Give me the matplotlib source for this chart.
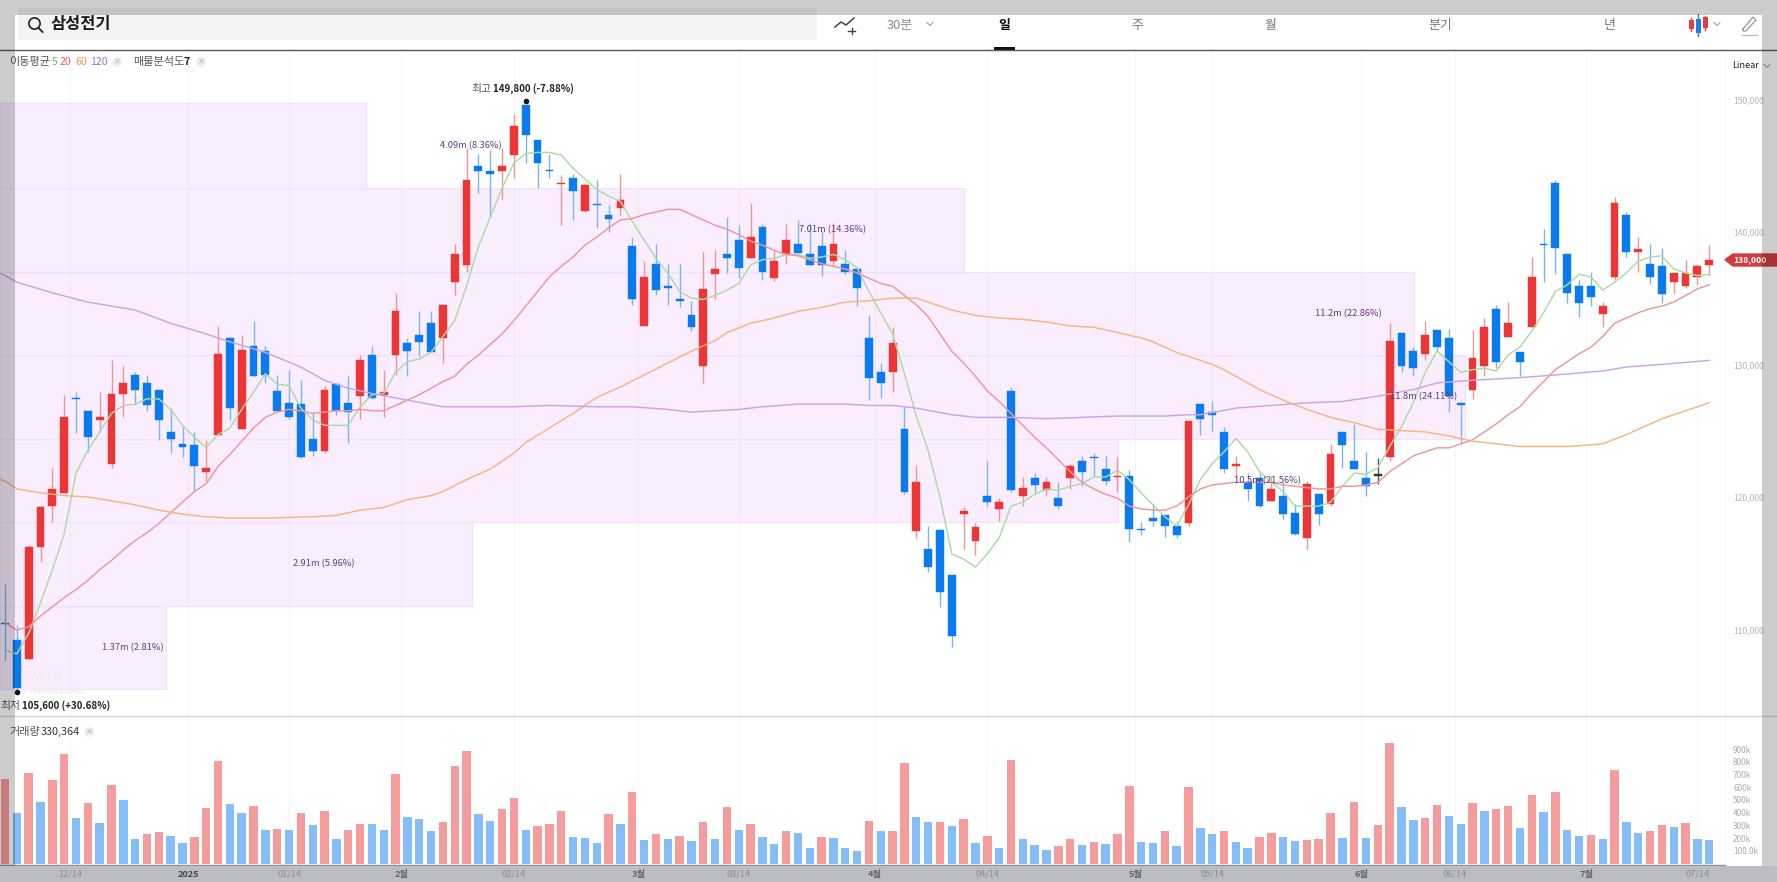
import matplotlib
matplotlib.use("Agg")
import matplotlib.pyplot as plt
from matplotlib.patches import Rectangle, Circle, Polygon
import numpy as np

plt.rcParams['font.family'] = ['Noto Sans CJK KR', 'DejaVu Sans']

# ---------- data ----------
open_ = [110600,109300,107900,116300,119400,120400,127600,126600,125900,122600,
 127900,129300,128700,128200,125000,124100,124000,122000,124800,132100,
 125200,131500,131100,128100,127200,127100,124500,123600,128600,127200,
 127700,130800,127800,130800,131700,132300,133200,132100,136300,137600,
 145100,144700,144700,145900,149650,147000,144800,143700,144200,141700,
 142200,141400,141900,139000,133000,137700,136000,135000,133800,130000,
 136900,138400,139500,138100,140500,136600,138400,139200,138400,139000,
 137900,137700,137300,132100,129500,129500,125200,117500,116200,117600,
 114200,118800,116800,120200,119200,128100,120200,121500,120600,120000,
 121500,122800,123100,122200,121600,121700,117700,118500,118700,117900,
 118100,127100,126500,125000,122400,121200,121500,119800,120200,118900,
 117000,120300,119600,125000,122800,121500,121700,123100,132500,131100,
 130900,132700,132100,127200,128200,130000,134300,132200,131000,132900,
 139200,143800,138400,136000,136000,133900,136700,141400,138600,137700,
 137500,136300,136000,136700,137600]
close = [110500,105700,116300,119300,120700,126100,127500,124600,126100,127900,
 128700,128200,127000,125900,124500,123900,122400,122300,130900,126800,
 131200,129200,129300,126600,126100,123100,123600,128200,126600,126500,
 130400,127600,128000,134100,131100,131800,131000,134600,138400,144000,
 144700,144500,145100,148100,147400,145300,144700,143800,143200,143600,
 142100,141100,142500,135000,136700,135700,135900,134900,132900,135800,
 137300,138100,137400,139700,137100,137900,139500,138500,137600,137600,
 139200,137100,135900,129100,128700,131700,120500,121200,114800,112900,
 109600,119000,117800,119700,119700,120600,120800,121000,121200,119400,
 122400,122000,123000,121300,121700,117700,117600,118300,117900,117200,
 125800,126000,126300,122200,122600,120700,119400,120700,118800,117300,
 121100,118800,123300,124000,122200,120900,121700,131900,130000,129800,
 132300,131400,127700,127000,130600,132900,130300,133200,130300,136700,
 139100,138900,135500,134700,135200,134500,142300,138600,138800,136700,
 135400,137000,137000,137500,138000]
high = [113500,110400,116500,119400,122300,127800,128000,126600,128000,130400,
 130000,129500,129300,128200,126800,125400,125000,124400,133000,132200,
 132300,133400,131500,129300,129700,128900,126400,128500,128600,129200,
 130800,131500,129700,135500,132100,134100,134100,134600,139200,146400,
 146000,146300,146400,149000,149650,147000,146000,144400,144500,143800,
 144000,142100,144500,139700,137900,139200,137700,137700,134900,138600,
 138700,141200,140600,142300,140700,138700,140700,141000,140800,140200,
 140800,138700,137300,133800,130200,132900,126900,122500,117900,117600,
 114200,119300,118100,122800,120000,128400,121600,121900,121600,121200,
 122600,123200,123400,123200,123100,122100,118200,119600,118700,118200,
 125800,127100,127300,125400,123200,121900,122000,121700,121200,119600,
 121300,120300,124100,125000,125600,123500,123000,133200,132500,131400,
 133400,132700,132800,127200,132700,133600,134600,134800,131000,138200,
 140300,144000,138400,136500,137100,134800,142700,141600,139700,139200,
 138900,137000,138000,137700,139100]
low = [107700,105600,107900,115200,118200,120400,124900,123500,125000,122300,
 126100,127000,126600,124400,123400,123100,120500,121300,124800,125900,
 125200,129200,128700,126600,126000,123000,123200,123400,126300,124200,
 126000,127500,126100,129300,129200,130700,131000,130200,135300,137100,
 143000,141200,142600,144200,145300,143400,144200,140600,141000,141600,
 140400,140100,141400,134600,133000,135300,134600,134400,132600,128700,
 135000,137000,136600,138100,136500,136400,137700,138500,137600,136800,
 137500,136900,134500,127400,127600,128000,120300,117000,114400,111800,
 108800,116200,115700,119400,118300,120500,119400,120400,120200,119200,
 120700,120900,121700,121000,120500,116700,117200,117900,117100,117000,
 117900,124800,125100,121900,121500,119800,119300,119800,118400,117200,
 116200,118000,119400,122300,122200,120200,121100,122800,129500,129200,
 130400,131100,126500,124100,127500,129200,129800,132200,129200,132900,
 136300,136900,134700,133700,134500,132900,136500,138200,137100,136200,
 134700,135500,135900,136100,136800]

ma5 = [108550,108250,109800,112100,114600,117300,121900,123600,125000,126400,
 127000,127100,127500,127500,126700,125500,124600,123800,124800,125300,
 126700,128000,129400,128600,128500,126800,125900,125500,125500,125500,
 126900,127800,127900,129500,130300,130500,131000,132200,133400,136000,
 139000,141200,143400,145300,146000,146100,146100,145900,144900,144100,
 143300,142800,142400,140900,139500,138100,137000,135600,135100,135000,
 135300,135700,136200,137600,138000,138100,138400,138400,138100,138200,
 138400,138000,137400,135600,134000,132400,129400,126200,123600,120100,
 115800,115400,114800,115800,117000,119400,119700,120300,120700,120600,
 120900,121100,121600,121600,122100,121400,120400,119500,118600,117900,
 119500,121400,122600,123500,124500,123500,122000,121200,120500,119400,
 119400,119400,119700,120900,121900,121800,122300,123900,125400,127200,
 129500,131100,130300,129500,129700,129800,129600,130800,131400,132600,
 134000,135600,136100,136900,136700,135700,136300,137000,137900,138200,
 138300,137300,137000,136800,136900]
ma20 = [110600,110050,110300,111100,111800,112500,113100,113800,114600,115300,
 116100,116800,117400,118100,118900,119700,120500,121100,122400,123300,
 124300,125300,126100,126500,126700,126600,126400,126500,126600,126600,
 126700,126600,126600,127000,127400,127800,128300,128800,129200,130100,
 130800,131600,132400,133400,134500,135600,136700,137500,138200,139100,
 139700,140400,141000,141100,141400,141600,141800,141800,141400,141000,
 140600,140300,139900,139400,139100,138700,138400,138300,138000,137700,
 137500,137300,137000,136600,136200,136000,135300,134600,133700,132400,
 131100,130200,129200,128100,127300,126400,125500,124600,123800,122900,
 122000,121200,120700,120300,120000,119400,119200,119100,119100,119400,
 120100,120700,121000,121100,121200,121200,121200,121200,121000,120900,
 120800,120700,120700,120900,120900,121000,121200,122000,122600,123200,
 123500,123800,123800,124100,124400,125000,125600,126300,126900,127900,
 128800,129700,130300,130900,131400,132200,133200,133600,134000,134300,
 134500,134800,135300,135800,136100]
ma60_idx = [-1,0,1,3,5,7,9,11,13,15,17,19,22,26,28,30,32,34,36,37,39,41,43,44,46,48,50,
 52,54,56,58,60,61,63,65,67,69,71,73,75,77,78,80,82,84,86,88,90,92,94,96,97,99,
 102,103,104,106,108,110,112,114,116,118,120,122,124,126,128,132,135,137,140,144]
ma60_val = [121600,121300,120700,120400,120200,120100,119800,119500,119100,118800,118600,118500,118500,118600,118700,119100,119300,119900,120200,120500,121400,122200,123400,124200,125300,126400,127600,
 128400,129300,130200,131100,131900,132500,133200,133600,134100,134400,134800,134900,135100,135100,134800,134200,133800,133600,133500,133300,133000,132900,132500,132100,131800,131000,
 130100,129700,129200,128200,127400,126700,126100,125700,125200,125100,125000,124700,124300,124100,123900,123900,124100,124800,126000,127200]
ma120_idx = [-1,0,1,4,7,11,14,17,19,22,25,27,29,31,34,37,39,43,46,50,53,56,58,60,62,64,67,71,73,75,77,80,82,85,88,91,94,98,100,
 101,104,107,110,113,116,119,121,124,128,131,135,137,140,144]
ma120_val = [137200,136800,136300,135500,134800,134200,133200,132400,131800,131000,129900,128900,128300,127900,127400,126900,126900,126900,127000,126900,126900,126700,126500,126600,126700,126900,127100,127100,127000,127000,126800,126300,126100,126100,126000,126100,126200,126200,126300,
 126300,126800,127000,127200,127300,127700,128200,128700,128900,129100,129300,129600,129900,130100,130400]

volume_k = [672,407,717,494,664,866,368,480,323,622,
 504,197,236,252,223,165,218,446,816,472,
 407,459,268,281,273,402,310,417,202,273,
 318,318,273,709,373,354,260,331,772,893,
 394,344,438,525,273,302,318,417,215,210,
 171,394,320,572,189,236,202,223,181,336,
 202,452,273,320,218,160,260,244,131,215,
 210,131,108,344,260,260,801,373,331,336,
 302,360,165,223,131,822,202,152,116,144,
 202,152,173,160,236,617,173,165,260,144,
 609,286,236,265,173,131,215,244,215,181,
 194,202,402,210,494,210,307,958,452,352,
 365,465,381,315,480,423,438,459,286,543,
 415,572,273,223,231,202,743,336,244,260,
 307,294,323,202,194]
volume_side = ("rbrbrrbrbr" "bbrrbbrrrb" "brbrbrbrbr" "rbbrbbbrrr" "bbrrbrrrbb"
               "brbrbrbrbr" "brbrbbrbbr" "bbbrbrrbbr" "brbrbrbbbr" "rbrbrrbbrb"
               "rbbrbbrrbb" "rrrbrbrrbb" "rrbbrbrrbr" "brbbrbrbbr" "rbrbb")

profile_edges = [105600,111900,118200,124500,130800,137100,143400,149800]
profile_reach = [13.6,39.5,94.05,123.4,119.05,81.0,30.5]
profile_labels = ["1.37m (2.81%)","2.91m (5.96%)","10.5m (21.56%)","11.8m (24.11%)","11.2m (22.86%)","7.01m (14.36%)","4.09m (8.36%)"]
profile_label_x = [10.8,26.9,106.7,119.9,113.5,69.9,39.4]

x_ticks = [5.5,15.5,24,33.5,43,53.5,62,73.5,83,95.5,102,114.6,122.5,133.6,143]
x_labels = ["12/14","2025","01/14","2월","02/14","3월","03/14","4월","04/14","5월","05/14","6월","06/14","7월","07/14"]
price_ticks = [110000,120000,130000,140000,150000]
vol_ticks_k = [100,200,300,400,500,600,700,800,900]
vol_labels = ["100.0k","200k","300k","400k","500k","600k","700k","800k","900k"]
last_price = 138000

# ---------- styles / layout ----------
W, H = 1777, 882
RED, BLUE = "#EE3535", "#0A7BEE"
RED_W, BLUE_W = "#F19494", "#77B6F3"
RED_V, BLUE_V = "#F59C9C", "#84BDF8"
LILAC, LILAC_E = "#FAEDFE", "#F2E2F8"
step = 11.835
xlim = (-5/step, (W-5)/step)

def px_to_price(y):
    return 130000 + (365.7 - y) * 75.47

fig = plt.figure(figsize=(W/100, H/100), dpi=100, facecolor="white")
ax = fig.add_axes([0, (H-716)/H, 1, (716-49)/H])
ax.set_xlim(*xlim)
ax.set_ylim(px_to_price(716), px_to_price(49))
ax.axis("off")
vol_base = 864.4
axv = fig.add_axes([0, (H-vol_base)/H, 1, (vol_base-716)/H])
axv.set_xlim(*xlim)
axv.set_ylim(0, (vol_base-716)/12.7*100)
axv.axis("off")
ui = fig.add_axes([0, 0, 1, 1], zorder=10)
ui.set_xlim(0, W); ui.set_ylim(H, 0); ui.axis("off"); ui.patch.set_alpha(0)

# grid
for t in list(x_ticks) + [(1725-5)/step]:
    ax.axvline(t, color="black", alpha=0.035, lw=0.8, zorder=1.5)
    axv.axvline(t, color="black", alpha=0.035, lw=0.8, zorder=0)

# volume profile
for k, r in enumerate(profile_reach):
    ax.barh(profile_edges[k], r - xlim[0], height=profile_edges[k+1]-profile_edges[k],
            left=xlim[0], align="edge", color=LILAC, edgecolor=LILAC_E, lw=0.9, zorder=1)

# watermark
ax.text((23-5)/step, px_to_price(677), "NAVER", fontsize=8.5, fontweight="bold", color="#F3E8F6", va="center", zorder=1.5)
ax.text((23-5)/step, px_to_price(690), "FINANCIAL", fontsize=8.5, fontweight="bold", color="#F5EDF8", va="center", zorder=1.5)

# candles
idx = np.arange(len(close))
for i, o, h, l, c in zip(idx, open_, high, low, close):
    col = RED if c > o else BLUE if c < o else "#333333"
    wcol = RED_W if c > o else BLUE_W if c < o else "#555555"
    ax.vlines(i, l, h, color=wcol, lw=1.0, zorder=2)
    ax.bar(i, max(abs(c-o), 100), bottom=min(o, c), width=0.66, color=col, edgecolor=col, lw=0.3, zorder=3)

# moving averages
ax.plot(idx, ma5, color="#ADDAA3", lw=1.05, zorder=4)
ax.plot(idx, ma20, color="#EF9797", lw=1.05, zorder=4)
ax.plot(ma60_idx, ma60_val, color="#F6B580", lw=1.05, zorder=4)
ax.plot(ma120_idx, ma120_val, color="#CAA5E4", lw=1.05, zorder=4)

# profile labels
for x, y0, y1, s in zip(profile_label_x, profile_edges[:-1], profile_edges[1:], profile_labels):
    ax.text(x, (y0+y1)/2, s, fontsize=6.7, color="#5D3F7B", ha="center", va="center", zorder=5)

# volume bars
axv.bar(idx, volume_k, width=0.71, color=[RED_V if s == "r" else BLUE_V for s in volume_side], zorder=2)

# price ticks
for p in price_ticks:
    ax.text((1733-5)/step, p, f"{p:,}", fontsize=6.2, color="#B3B6BB", ha="left", va="center", zorder=6)
for v, s in zip(vol_ticks_k, vol_labels):
    axv.text((1733-5)/step, v, s, fontsize=6.0, color="#A9ACB2", ha="left", va="center", zorder=6)

# last price tag
ax.add_patch(Polygon([((1725-5)/step, last_price), ((1733-5)/step, px_to_price(254)),
                      ((W-5)/step, px_to_price(254)), ((W-5)/step, px_to_price(266)),
                      ((1733-5)/step, px_to_price(266))], closed=True, color="#D23C3C", zorder=6, clip_on=False))
ax.text((1733-5)/step, last_price, f"{last_price:,}", fontsize=6.2, color="white", fontweight="bold", ha="left", va="center", zorder=7)

# high / low annotations
ax.plot([(526-5)/step], [px_to_price(100.7)], "o", ms=3.0, color="#111111", zorder=6)
ax.plot([(17-5)/step], [px_to_price(692)], "o", ms=3.0, color="#111111", zorder=6)
ui.text(471, 89, "최고", fontsize=7.8, color="#555555", va="center")
ui.text(493, 89, "149,800 (-7.88%)", fontsize=7, color="#222222", fontweight="bold", va="center")
ui.text(0, 706, "최저", fontsize=7.8, color="#555555", va="center")
ui.text(22, 706, "105,600 (+30.68%)", fontsize=7, color="#222222", fontweight="bold", va="center")

# panel separators
ui.plot([0, W], [49.5, 49.5], color="#5A5A5A", lw=1.0)
ui.plot([0, W], [716, 716], color="#D4D7E0", lw=1.0)
ui.plot([0, 1725], [865, 865], color="#8E9094", lw=1.0)

# search bar and tabs
ui.add_patch(Rectangle((18, 8), 799, 32, fc="#F3F4F6", ec="none", zorder=0))
ui.add_patch(Circle((34.5, 23.5), 5.6, fc="none", ec="#222222", lw=1.2))
ui.plot([38.5, 42.5], [27.8, 32], color="#222222", lw=1.3)
ui.text(51, 24.5, "삼성전기", fontsize=11.8, fontweight="bold", color="#1A1A1A", va="center")
for tx, s, col, wt in [(900, "30분", "#8A8A8A", "normal"), (1004, "일", "#111111", "bold"), (1137, "주", "#777777", "normal"),
                       (1270, "월", "#777777", "normal"), (1440, "분기", "#777777", "normal"), (1610, "년", "#777777", "normal")]:
    ui.text(tx, 25, s, fontsize=9.3, color=col, fontweight=wt, ha="center", va="center")
ui.add_patch(Rectangle((994, 47), 21, 2.5, fc="#111111", ec="none"))
ui.plot([835, 841, 846, 854], [27, 22, 25, 18], color="#444444", lw=1.1)
ui.plot([848, 855], [31, 31], color="#444444", lw=1.0)
ui.plot([851.5, 851.5], [28, 34], color="#444444", lw=1.0)
for cx in (930, 1717, 1767):
    cy = 24 if cx != 1767 else 66
    ui.plot([cx-3, cx, cx+3], [cy-1.5, cy+1.5, cy-1.5], color="#A0A0A0", lw=0.8)
ui.plot([1691, 1691], [18, 31], color="#E04040", lw=1)
ui.add_patch(Rectangle((1688.5, 20), 5, 9, fc="#E93A3A", ec="none"))
ui.plot([1698, 1698], [14, 36], color="#1E7FE8", lw=1)
ui.add_patch(Rectangle((1695.5, 19), 5, 14, fc="#1E7FE8", ec="none"))
ui.plot([1705, 1705], [16, 30], color="#E04040", lw=1)
ui.add_patch(Rectangle((1702.5, 17), 5, 11, fc="#E93A3A", ec="none"))
ui.plot([1743, 1753, 1756, 1746, 1743, 1743], [29, 17, 20, 31, 31, 29], color="#999999", lw=0.9)
ui.plot([1742, 1757], [35, 35], color="#BBBBBB", lw=0.9)
ui.text(1732, 65, "Linear", fontsize=6.6, color="#222222", va="center")

# legend rows
for tx, s, col, wt in [(9, "이동평균", "#555555", "normal"), (52, "5", "#6DB85A", "normal"), (60, "20", "#E35F5F", "normal"),
                       (75, "60", "#F09A45", "normal"), (90, "120", "#9C70CF", "normal"),
                       (133, "매물분석도", "#555555", "normal"), (184, "7", "#222222", "bold")]:
    ui.text(tx, 62, s, fontsize=8 if tx in (9, 133) else 7.6, color=col, fontweight=wt, va="center")
ui.text(9, 732, "거래량", fontsize=8, color="#555555", va="center")
ui.text(41, 732, "330,364", fontsize=7.8, color="#333333", va="center")
for cx, cy in [(117, 62), (201, 62), (89, 732)]:
    ui.add_patch(Circle((cx, cy), 5, fc="#EFEFEF", ec="none"))
    ui.text(cx, cy, "×", fontsize=6, color="#B5B5B5", ha="center", va="center", family="DejaVu Sans")

# screenshot bands on top
ui.add_patch(Rectangle((0, 866), W, 16, fc="#BBBDC0", ec="none", zorder=8))
ui.add_patch(Rectangle((0, 0), W, 15, fc="black", alpha=0.2, ec="none", zorder=8))
ui.add_patch(Rectangle((0, 15), 15, 851, fc="black", alpha=0.2, ec="none", zorder=8))
ui.add_patch(Rectangle((1762, 15), 15, 851, fc="black", alpha=0.2, ec="none", zorder=8))

# date axis labels
for t, s in zip(x_ticks, x_labels):
    month = s.endswith("월")
    bold = month or s == "2025"
    ui.text(5 + t*step, 874.5, s, fontsize=6.6, color="#444444" if s == "2025" else "#666666" if month else "#8B8D92",
            fontweight="bold" if bold else "normal", ha="center", va="center", zorder=9)

fig.savefig("out.png", dpi=100)
